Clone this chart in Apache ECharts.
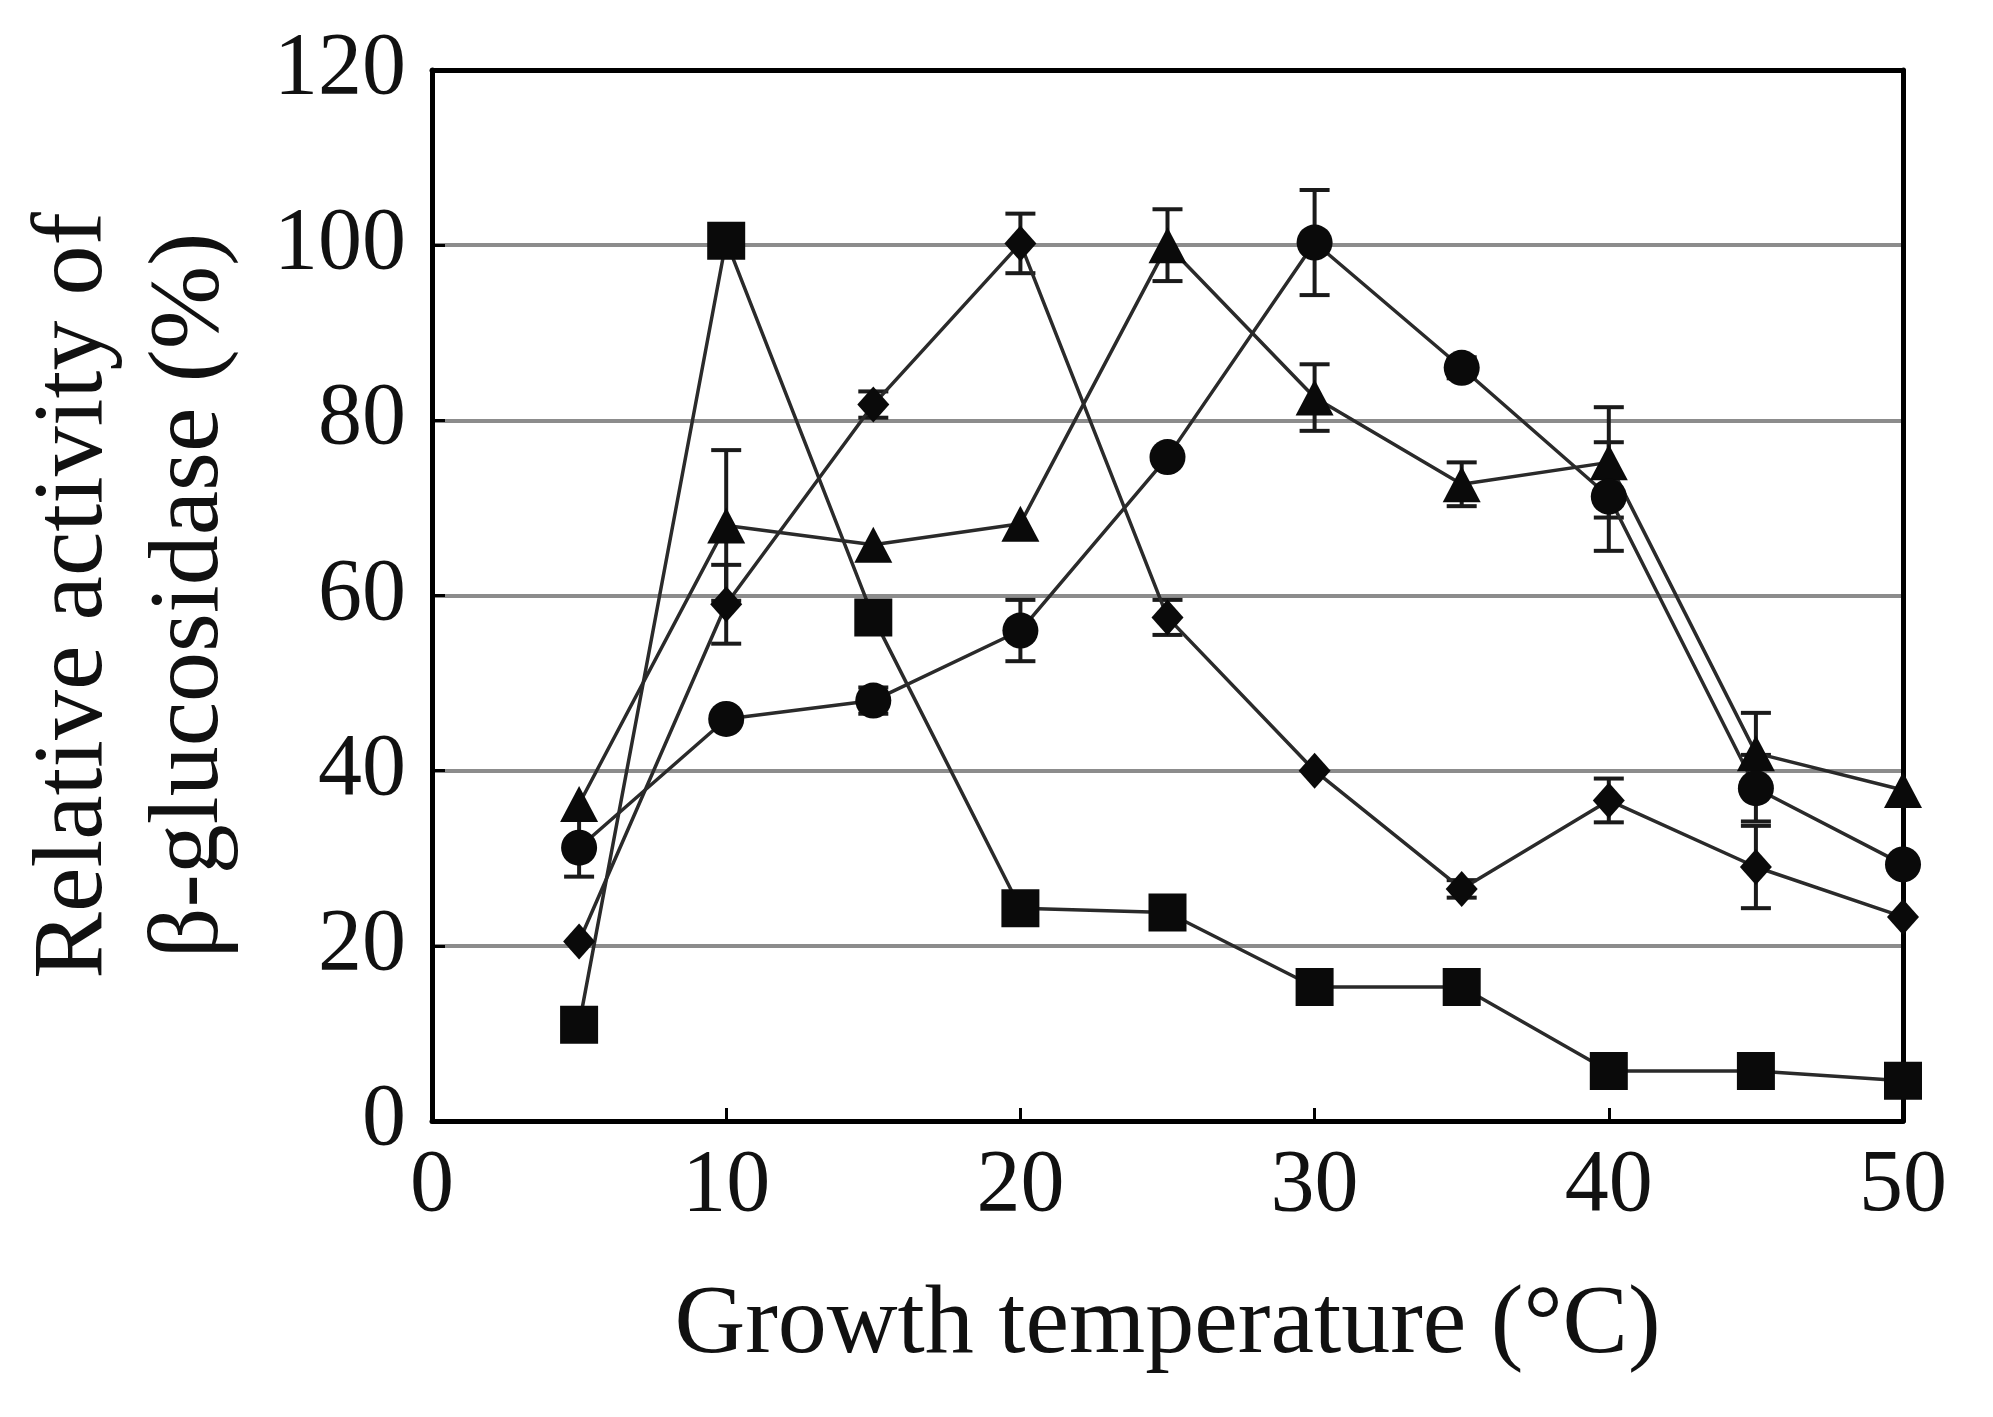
<!DOCTYPE html>
<html>
<head>
<meta charset="utf-8">
<script src="https://cdn.jsdelivr.net/npm/echarts@6/dist/echarts.min.js"></script>
<style>
html,body{margin:0;padding:0;background:#fff;}
#chart{width:1993px;height:1417px;}
</style>
</head>
<body>
<div id="chart"></div>
<script>
// ---- data ----
const temps = [5, 10, 15, 20, 25, 30, 35, 40, 45, 50];
const squareVals   = [11.0, 100.5, 57.5, 24.3, 23.8, 15.3, 15.3, 5.7, 5.7, 4.6];
const squareErr    = [0, 0, 0, 0, 0, 0, 0, 0, 0, 0];
const diamondVals  = [20.5, 59.0, 81.8, 100.2, 57.5, 40.0, 26.5, 36.6, 29.0, 23.3];
const diamondErr   = [0, 4.5, 1.5, 3.4, 2.0, 0, 1.0, 2.5, 4.7, 0];
const triangleVals = [36.2, 68.0, 65.8, 68.2, 100.0, 82.6, 72.7, 75.2, 42.0, 37.8];
const triangleErr  = [0, 8.6, 0, 0, 4.1, 3.8, 2.5, 6.3, 4.6, 0];
const circleVals   = [31.2, 45.9, 48.0, 56.0, 75.8, 100.3, 86.0, 71.3, 38.0, 29.3];
const circleErr    = [3.3, 0, 1.5, 3.5, 0, 6.0, 1.2, 6.2, 3.8, 0];
const xTicks = [0, 10, 20, 30, 40, 50];
const yTicks = [0, 20, 40, 60, 80, 100, 120];
const xTitle = 'Growth temperature (°C)';
const yTitle = 'Relative activity of\nβ-glucosidase (%)';

const FONT = 'Liberation Serif';

function pairs(vals) { return temps.map((t, i) => [t, vals[i]]); }
function errData(vals, errs) {
  const out = [];
  temps.forEach((t, i) => { if (errs[i] > 0) out.push([t, vals[i] - errs[i], vals[i] + errs[i]]); });
  return out;
}

function lineSeries(name, vals, symbol, size) {
  return {
    name: name, type: 'line', data: pairs(vals),
    symbol: symbol, symbolSize: size,
    lineStyle: { color: '#2a2a2a', width: 3.5 },
    itemStyle: { color: '#0a0a0a' },
    z: 5, animation: false
  };
}

function errSeries(vals, errs) {
  return {
    type: 'custom', data: errData(vals, errs), z: 4, animation: false,
    renderItem: function (params, api) {
      const x = api.value(0);
      const lo = api.coord([x, api.value(1)]);
      const hi = api.coord([x, api.value(2)]);
      const hw = 15;
      const st = { stroke: '#1a1a1a', lineWidth: 4 };
      return {
        type: 'group',
        children: [
          { type: 'line', shape: { x1: lo[0], y1: lo[1], x2: hi[0], y2: hi[1] }, style: st },
          { type: 'line', shape: { x1: lo[0] - hw, y1: lo[1], x2: lo[0] + hw, y2: lo[1] }, style: st },
          { type: 'line', shape: { x1: hi[0] - hw, y1: hi[1], x2: hi[0] + hw, y2: hi[1] }, style: st }
        ]
      };
    }
  };
}

function frameAxis(extra) {
  return Object.assign({
    type: 'value',
    axisLine: { show: true, onZero: false, lineStyle: { color: '#000', width: 5 } },
    axisTick: { show: false }, axisLabel: { show: false }, splitLine: { show: false }
  }, extra);
}

const chart = echarts.init(document.getElementById('chart'), null, { renderer: 'canvas' });
chart.setOption({
  backgroundColor: '#fff',
  animation: false,
  grid: { left: 432, right: 90, top: 70, bottom: 296, containLabel: false, outerBoundsMode: 'none',
          show: false },
  xAxis: [{
    type: 'value', min: xTicks[0], max: xTicks[xTicks.length - 1], interval: 10,
    name: xTitle, nameLocation: 'middle', nameGap: 156,
    nameTextStyle: { fontFamily: FONT, fontSize: 98, color: '#111' },
    axisLine: { show: true, onZero: false, lineStyle: { color: '#000', width: 5 } },
    axisTick: { show: true, inside: true, length: 13, lineStyle: { color: '#000', width: 3 } },
    axisLabel: { fontFamily: FONT, fontSize: 88, color: '#111', margin: 22 },
    splitLine: { show: false }
  }, frameAxis({ position: 'top', min: 0, max: 50 })],
  yAxis: [{
    type: 'value', min: yTicks[0], max: yTicks[yTicks.length - 1], interval: 20,
    name: yTitle, nameLocation: 'middle', nameRotate: 90, nameGap: 183,
    nameTextStyle: { fontFamily: FONT, fontSize: 100, color: '#111', lineHeight: 116 },
    axisLine: { show: true, onZero: false, lineStyle: { color: '#000', width: 5 } },
    axisTick: { show: true, inside: true, length: 13, lineStyle: { color: '#000', width: 3 } },
    axisLabel: { fontFamily: FONT, fontSize: 88, color: '#111', margin: 26 },
    splitLine: { show: true, lineStyle: { color: '#8c8c8c', width: 4 } }
  }, frameAxis({ position: 'right', min: 0, max: 120 })],
  series: [
    errSeries(squareVals, squareErr),
    errSeries(diamondVals, diamondErr),
    errSeries(triangleVals, triangleErr),
    errSeries(circleVals, circleErr),
    lineSeries('square', squareVals, 'rect', 38),
    lineSeries('diamond', diamondVals, 'diamond', [32, 36]),
    lineSeries('triangle', triangleVals, 'triangle', [38, 36]),
    lineSeries('circle', circleVals, 'circle', 36)
  ]
});
</script>
</body>
</html>
